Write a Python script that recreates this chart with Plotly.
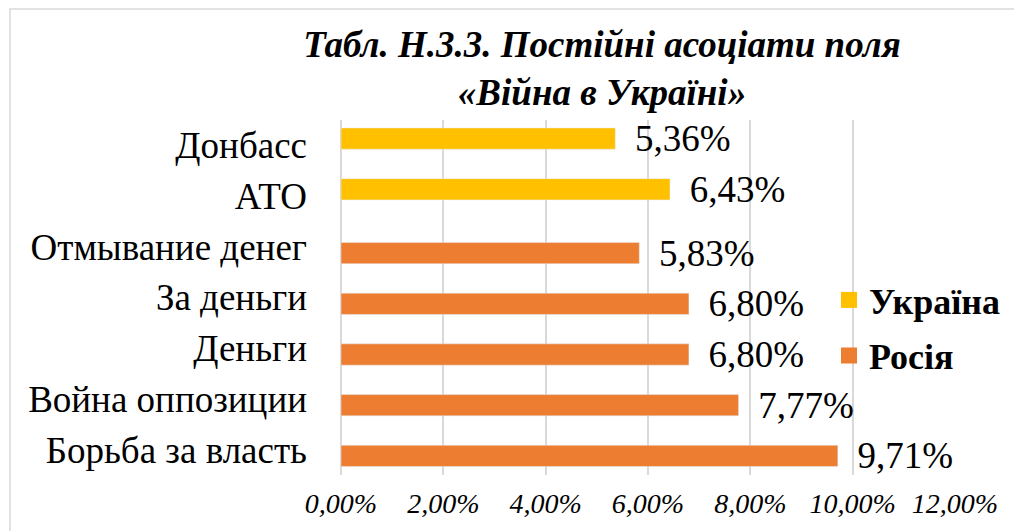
import plotly.graph_objects as go

# Data
categories = ["Донбасс", "АТО", "Отмывание денег", "За деньги", "Деньги",
              "Война оппозиции", "Борьба за власть"]
ukraine_cats = ["Донбасс", "АТО"]
ukraine_vals = [5.36, 6.43]
russia_cats = ["Отмывание денег", "За деньги", "Деньги", "Война оппозиции", "Борьба за власть"]
russia_vals = [5.83, 6.80, 6.80, 7.77, 9.71]
x_ticks = [0, 2, 4, 6, 8, 10, 12]
x_tick_labels = ["0,00%", "2,00%", "4,00%", "6,00%", "8,00%", "10,00%", "12,00%"]
series_names = ["Україна", "Росія"]
title_text = "<b><i>Табл. Н.3.3. Постійні асоціати поля<br>«Війна в Україні»</i></b>"

YELLOW = "#FFC000"
ORANGE = "#ED7D31"
GRID = "#D9D9D9"
FONT = "Liberation Serif, Times New Roman, serif"

W, H = 1014, 531
ML, MR, MT, MB = 341, 59, 120, 56
PW, PH = W - ML - MR, H - MT - MB

def px2x(px):
    return (px - ML) / PW

def px2y(py):
    return (H - MB - py) / PH

label_tpl = "\u00a0\u2009%{x:.2f}%"

fig = go.Figure()
fig.add_trace(go.Bar(
    y=ukraine_cats, x=ukraine_vals, orientation="h",
    marker=dict(color=YELLOW), width=0.42, offset=-0.344,
    texttemplate=label_tpl, textposition="outside", constraintext="none",
    textfont=dict(family=FONT, size=37, color="#000"),
    cliponaxis=False, showlegend=False, hoverinfo="skip",
))
fig.add_trace(go.Bar(
    y=russia_cats, x=russia_vals, orientation="h",
    marker=dict(color=ORANGE), width=0.42, offset=-0.086,
    texttemplate=label_tpl, textposition="outside", constraintext="none",
    textfont=dict(family=FONT, size=37, color="#000"),
    cliponaxis=False, showlegend=False, hoverinfo="skip",
))
# legend entries
fig.add_trace(go.Scatter(
    x=[None], y=[None], mode="markers", name="<b>" + series_names[0] + "</b>",
    marker=dict(symbol="square", size=19, color=YELLOW), legend="legend",
))
fig.add_trace(go.Scatter(
    x=[None], y=[None], mode="markers", name="<b>" + series_names[1] + "</b>",
    marker=dict(symbol="square", size=19, color=ORANGE), legend="legend2",
))

legend_font = dict(family=FONT, size=36, color="#000")

fig.update_layout(
    width=W, height=H,
    margin=dict(l=ML, r=MR, t=MT, b=MB, autoexpand=False),
    paper_bgcolor="white", plot_bgcolor="white",
    separators=", ",
    barmode="overlay",
    title=dict(
        text=title_text, x=602 / W, xanchor="center",
        y=1 - 56.5 / H, yanchor="middle",
        font=dict(family=FONT, size=37, color="#000"),
    ),
    xaxis=dict(
        range=[0, 12], tickvals=x_ticks, ticktext=x_tick_labels,
        showgrid=True, gridcolor=GRID, gridwidth=1.5,
        zeroline=True, zerolinecolor=GRID, zerolinewidth=1.5,
        showline=False, ticks="", ticklabelstandoff=9, automargin=False,
        tickfont=dict(family=FONT, size=28, color="#000", style="italic"),
    ),
    yaxis=dict(
        categoryorder="array", categoryarray=categories, autorange="reversed",
        showgrid=False, zeroline=False, showline=False, ticks="",
        ticklabelstandoff=33, automargin=False,
        tickfont=dict(family=FONT, size=37, color="#000"),
    ),
    legend=dict(x=px2x(829), xanchor="left", y=px2y(300), yanchor="middle",
                font=legend_font, bgcolor="rgba(0,0,0,0)"),
    legend2=dict(x=px2x(829), xanchor="left", y=px2y(355.5), yanchor="middle",
                 font=legend_font, bgcolor="rgba(0,0,0,0)"),
    shapes=[dict(type="rect", xref="paper", yref="paper",
                 x0=px2x(10), x1=px2x(1040), y0=px2y(560), y1=px2y(9),
                 line=dict(color=GRID, width=1.5), fillcolor="rgba(0,0,0,0)",
                 layer="below")],
)

fig.write_html("out.html", config={"displayModeBar": False},
               post_script="document.body.style.margin='0';")
